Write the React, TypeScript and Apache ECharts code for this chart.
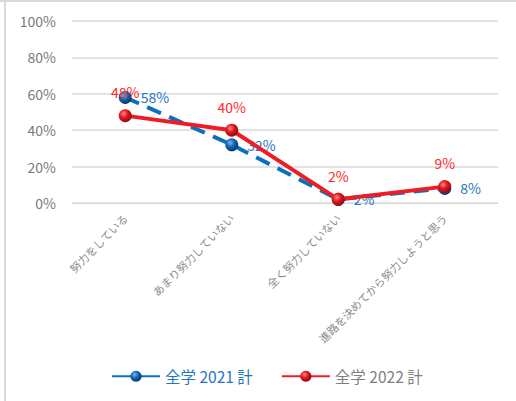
import React, { useEffect, useRef } from "react";
import * as echarts from "echarts";

const categories = [
  "努力をしている",
  "あまり努力していない",
  "全く努力していない",
  "進路を決めてから努力しようと思う",
];
const series2021 = [58, 32, 2, 8];
const series2022 = [48, 40, 2, 9];
const seriesNames = ["全学 2021 計", "全学 2022 計"];
const yTicks = { min: 0, max: 100, interval: 20 };

const FONT = "'Noto Sans CJK JP', 'Noto Sans', sans-serif";

export default function App() {
  const ref = useRef<HTMLDivElement>(null);
  useEffect(() => {
    if (!ref.current) return;
    const chart = echarts.init(ref.current, undefined, { renderer: "svg" });
    const blueGrad = {
      type: "radial",
      x: 0.38,
      y: 0.35,
      r: 0.7,
      colorStops: [
        { offset: 0, color: "#7ab8ee" },
        { offset: 0.45, color: "#1466b4" },
        { offset: 1, color: "#06325e" },
      ],
    };
    const redGrad = {
      type: "radial",
      x: 0.38,
      y: 0.35,
      r: 0.7,
      colorStops: [
        { offset: 0, color: "#ff8a8a" },
        { offset: 0.45, color: "#e3151f" },
        { offset: 1, color: "#8a0a10" },
      ],
    };
    chart.setOption({
      animation: false,
      textStyle: { fontFamily: FONT },
      graphic: [
        {
          type: "line",
          shape: { x1: 5, y1: 0, x2: 5, y2: 401 },
          style: { stroke: "#d9d9d9", lineWidth: 2 },
        },
        {
          type: "line",
          shape: { x1: 0, y1: 1, x2: 516, y2: 1 },
          style: { stroke: "#d9d9d9", lineWidth: 2 },
        },
      ],
      grid: { left: 72, right: 18, top: 21, bottom: 198, containLabel: false },
      legend: {
        bottom: 12,
        left: 106,
        itemWidth: 48,
        itemHeight: 14,
        itemGap: 28,
        textStyle: { fontSize: 15.5, fontFamily: FONT },
        data: [
          {
            name: seriesNames[0],
            textStyle: { color: "#1f77c4" },
            lineStyle: { type: "solid" },
          },
          { name: seriesNames[1], textStyle: { color: "#7f7f7f" } },
        ],
      },
      xAxis: {
        type: "category",
        data: categories,
        boundaryGap: true,
        axisLine: { show: true, lineStyle: { color: "#d9d9d9", width: 1 } },
        axisTick: { show: false },
        axisLabel: {
          rotate: 45,
          interval: 0,
          fontSize: 11,
          color: "#8c8c8c",
          margin: 13,
          fontFamily: FONT,
        },
      },
      yAxis: {
        type: "value",
        min: yTicks.min,
        max: yTicks.max,
        interval: yTicks.interval,
        axisLine: { show: false },
        axisTick: { show: false },
        splitLine: { lineStyle: { color: "#d9d9d9", width: 1.5 } },
        axisLabel: {
          formatter: "{value}%",
          fontSize: 14,
          color: "#7a7a7a",
          margin: 16,
          fontFamily: FONT,
        },
      },
      series: [
        {
          name: seriesNames[0],
          type: "line",
          data: series2021,
          symbol: "circle",
          symbolSize: 13,
          lineStyle: { color: "#0b6fc0", width: 4, type: [15, 9] },
          itemStyle: { color: blueGrad as any },
          label: {
            show: true,
            position: "right",
            distance: 9,
            formatter: "{c}%",
            color: "#1f77c4",
            fontSize: 14,
            fontFamily: FONT,
          },
          z: 2,
        },
        {
          name: seriesNames[1],
          type: "line",
          data: series2022,
          symbol: "circle",
          symbolSize: 13,
          lineStyle: { color: "#ee1c25", width: 4 },
          itemStyle: { color: redGrad as any },
          label: {
            show: true,
            position: "top",
            distance: 10,
            formatter: "{c}%",
            color: "#ff2a2a",
            fontSize: 14,
            fontFamily: FONT,
          },
          z: 3,
        },
      ],
    });
    return () => chart.dispose();
  }, []);
  return (
    <div
      ref={ref}
      style={{ position: "fixed", left: 0, top: 0, width: 516, height: 401, background: "#fff" }}
    />
  );
}
